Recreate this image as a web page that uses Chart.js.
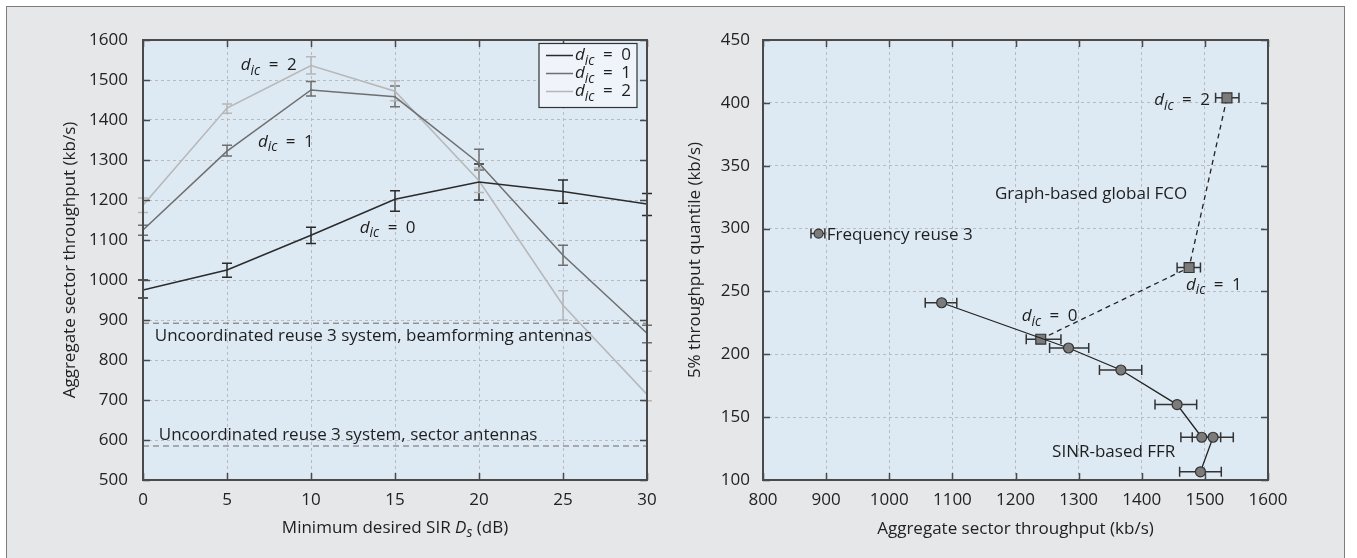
<!DOCTYPE html>
<html><head><meta charset="utf-8">
<script src="https://cdn.jsdelivr.net/npm/chart.js@4/dist/chart.umd.min.js"></script>
<style>
html,body{margin:0;padding:0;background:#fff;}
body{width:1357px;height:558px;position:relative;overflow:hidden;}
#frame{position:absolute;left:6px;top:6px;width:1339px;height:560px;background:#e6e7e8;border:1.5px solid #7d7d7d;box-sizing:border-box;}
#cL{position:absolute;left:0;top:0;}
#cR{position:absolute;left:680px;top:0;}
</style></head><body>
<div id="frame"></div>
<canvas id="cL" width="680" height="558"></canvas>
<canvas id="cR" width="677" height="558"></canvas>
<script>
// ---------- Left panel data ----------
const sirDb = [0, 5, 10, 15, 20, 25, 30];
const seriesLabels = ['d_ic = 0', 'd_ic = 1', 'd_ic = 2'];
const dic0 = [975, 1025, 1112, 1202, 1245, 1221, 1190];
const dic0Lo = [955, 1007, 1091, 1172, 1200, 1192, 1161];
const dic0Hi = [1000, 1042, 1132, 1223, 1290, 1250, 1216];
const dic1 = [1125, 1322, 1475, 1458, 1292, 1062, 867];
const dic1Lo = [1112, 1310, 1460, 1433, 1275, 1037, 843];
const dic1Hi = [1137, 1337, 1496, 1485, 1327, 1087, 887];
const dic2 = [1187, 1430, 1536, 1472, 1248, 937, 714];
const dic2Lo = [1169, 1417, 1515, 1448, 1219, 900, 698];
const dic2Hi = [1205, 1440, 1558, 1498, 1280, 973, 772];
const beamformingRef = 892;
const sectorRef = 585;
const leftXTicks = [0, 30, 5];      // min, max, step
const leftYTicks = [500, 1600, 100];

// ---------- Right panel data ----------
const ffrThroughput = [1083, 1284, 1367, 1456, 1495, 1513, 1493];
const ffrQuantile   = [241, 205, 187.5, 160, 134, 134, 106.5];
const ffrLo = [1057, 1254, 1333, 1421, 1462, 1480, 1460];
const ffrHi = [1107, 1316, 1400, 1487, 1525, 1545, 1526];
const fcoThroughput = [1240, 1475, 1535];
const fcoQuantile   = [212, 269, 404];
const fcoLo = [1217, 1456, 1517];
const fcoHi = [1272, 1493, 1554];
const fr3Throughput = [888];
const fr3Quantile   = [296];
const fr3Lo = [876];
const fr3Hi = [898];
const rightXTicks = [800, 1600, 100];
const rightYTicks = [100, 450, 50];

// ---------- helpers ----------
const FONT = "'Open Sans', 'Noto Sans', sans-serif";
const FS = 17;
Chart.defaults.font.family = FONT;
Chart.defaults.font.size = FS;
Chart.defaults.color = '#222';

function fontStr(italic, size){ return (italic ? 'italic ' : '') + size + 'px ' + FONT; }
function drawRich(ctx, segs, x, y, align, size){
  ctx.save();
  ctx.textBaseline = 'middle';
  ctx.textAlign = 'left';
  ctx.fillStyle = '#1e1e1e';
  const widths = segs.map(([t, s]) => {
    const sub = s.startsWith('s');
    ctx.font = fontStr(s.includes('i'), sub ? size * 0.8 : size);
    return ctx.measureText(t).width;
  });
  const total = widths.reduce((a, b) => a + b, 0);
  let cx = align === 'center' ? x - total / 2 : (align === 'right' ? x - total : x);
  segs.forEach(([t, s], k) => {
    const sub = s.startsWith('s');
    ctx.font = fontStr(s.includes('i'), sub ? size * 0.8 : size);
    ctx.fillText(t, cx, y + (sub ? size * 0.32 : 0));
    cx += widths[k];
  });
  ctx.restore();
}
function subSegs(label){
  const m = label.match(/^(\w)_(\w+)(.*)$/);
  if (!m) return [[label, 'n']];
  return [[m[1], 'i'], [m[2], 'si'], [m[3].replace(' = ', '\u2002=\u2002'), 'n']];
}

const framePlugin = {
  id: 'frame',
  beforeDraw(chart, args, opts){
    const {ctx, chartArea: a} = chart;
    ctx.save();
    ctx.fillStyle = opts.bg;
    ctx.fillRect(a.left, a.top, a.right - a.left, a.bottom - a.top);
    ctx.restore();
  },
  afterDraw(chart){
    const {ctx, chartArea: a, scales: {x, y}} = chart;
    ctx.save();
    ctx.strokeStyle = '#4a4a4a';
    ctx.lineWidth = 1.5;
    const L = 7;
    ctx.beginPath();
    x.ticks.forEach(t => {
      const p = Math.round(x.getPixelForValue(t.value)) + 0.5;
      ctx.moveTo(p, a.bottom); ctx.lineTo(p, a.bottom - L);
      ctx.moveTo(p, a.top); ctx.lineTo(p, a.top + L);
    });
    y.ticks.forEach(t => {
      const p = Math.round(y.getPixelForValue(t.value)) + 0.5;
      ctx.moveTo(a.left, p); ctx.lineTo(a.left + L, p);
      ctx.moveTo(a.right, p); ctx.lineTo(a.right - L, p);
    });
    ctx.stroke();
    ctx.lineWidth = 2;
    ctx.strokeRect(a.left, a.top, a.right - a.left, a.bottom - a.top);
    ctx.restore();
  }
};

const errorBarPlugin = {
  id: 'errbars',
  beforeDatasetsDraw(chart){
    const {ctx, scales: {x, y}} = chart;
    chart.data.datasets.forEach(ds => {
      if (!ds.errLo) return;
      ctx.save();
      ctx.strokeStyle = ds.errColor || ds.borderColor;
      ctx.lineWidth = 1.5;
      ctx.beginPath();
      const c = ds.errCap;
      ds.data.forEach((p, k) => {
        const px = x.getPixelForValue(p.x), py = y.getPixelForValue(p.y);
        if (ds.errAxis === 'x') {
          const a = x.getPixelForValue(ds.errLo[k]), b = x.getPixelForValue(ds.errHi[k]);
          ctx.moveTo(a, py); ctx.lineTo(b, py);
          ctx.moveTo(a, py - c); ctx.lineTo(a, py + c);
          ctx.moveTo(b, py - c); ctx.lineTo(b, py + c);
        } else {
          const a = y.getPixelForValue(ds.errLo[k]), b = y.getPixelForValue(ds.errHi[k]);
          ctx.moveTo(px, a); ctx.lineTo(px, b);
          ctx.moveTo(px - c, a); ctx.lineTo(px + c, a);
          ctx.moveTo(px - c, b); ctx.lineTo(px + c, b);
        }
      });
      ctx.stroke();
      ctx.restore();
    });
  }
};

const notesPlugin = {
  id: 'notes',
  afterDatasetsDraw(chart, args, opts){
    const {ctx, chartArea: a, scales: {x, y}} = chart;
    (opts.items || []).forEach(it => {
      let px, py;
      if (it.axisTitle) { px = (a.left + a.right) / 2; py = a.bottom + it.dy; }
      else { px = x.getPixelForValue(it.x); py = y.getPixelForValue(it.y); }
      drawRich(ctx, it.segs, px, py, it.align || 'left', it.size || FS);
    });
  }
};

const richLegendPlugin = {
  id: 'richLegend',
  afterDraw(chart, args, opts){
    if (!opts.show) return;
    const {ctx, chartArea: a} = chart;
    const w = 98, h = 64;
    const left = a.right - 10 - w, top = a.top + 3.5;
    ctx.save();
    ctx.fillStyle = '#eef4f9';
    ctx.fillRect(left, top, w, h);
    ctx.strokeStyle = '#333';
    ctx.lineWidth = 1.2;
    ctx.strokeRect(left, top, w, h);
    const dsList = chart.data.datasets.filter(d => d.inLegend);
    dsList.forEach((d, k) => {
      const yy = top + 12 + k * 18;
      ctx.strokeStyle = d.borderColor;
      ctx.lineWidth = 1.5;
      ctx.beginPath(); ctx.moveTo(left + 7, yy); ctx.lineTo(left + 34, yy); ctx.stroke();
      drawRich(ctx, subSegs(d.label), left + 36, yy, 'left', FS);
    });
    ctx.restore();
  }
};

function axisOpts(ticksArr, pad, extra){
  return Object.assign({
    type: 'linear',
    min: ticksArr[0], max: ticksArr[1],
    ticks: {stepSize: ticksArr[2], maxRotation: 0, autoSkip: false, color: '#222', font: {size: FS}, padding: pad,
            callback: v => String(v)},
    grid: {color: '#b8bcc2', lineWidth: 1, drawTicks: false},
    border: {display: false, dash: [3, 3]}
  }, extra);
}

// ---------- Left chart ----------
const leftColors = ['#2b2b2b', '#6f6f6f', '#b7b7b7'];
const leftSeries = [[dic0, dic0Lo, dic0Hi], [dic1, dic1Lo, dic1Hi], [dic2, dic2Lo, dic2Hi]];
const leftDatasets = leftSeries.map(([v, lo, hi], i) => ({
  label: seriesLabels[i],
  data: sirDb.map((s, k) => ({x: s, y: v[k]})),
  showLine: true, borderColor: leftColors[i], borderWidth: 1.5, pointRadius: 0,
  errLo: lo, errHi: hi, errAxis: 'y', errCap: 5, inLegend: true
}));
leftDatasets.push({
  label: 'Uncoordinated reuse 3 system, beamforming antennas',
  data: [{x: sirDb[0], y: beamformingRef}, {x: sirDb[sirDb.length - 1], y: beamformingRef}],
  showLine: true, borderColor: '#6a6a6a', borderWidth: 1, borderDash: [6, 4], pointRadius: 0
});
leftDatasets.push({
  label: 'Uncoordinated reuse 3 system, sector antennas',
  data: [{x: sirDb[0], y: sectorRef}, {x: sirDb[sirDb.length - 1], y: sectorRef}],
  showLine: true, borderColor: '#6a6a6a', borderWidth: 1, borderDash: [6, 4], pointRadius: 0
});

new Chart(document.getElementById('cL'), {
  type: 'scatter',
  data: {datasets: leftDatasets},
  plugins: [framePlugin, errorBarPlugin, notesPlugin, richLegendPlugin],
  options: {
    responsive: false, animation: false,
    layout: {padding: {left: 0, top: 40, right: 33, bottom: 0}},
    plugins: {
      legend: {display: false}, tooltip: {enabled: false},
      frame: {bg: '#dde9f3'},
      richLegend: {show: true},
      notes: {items: [
        {x: 5.82, y: 1537, segs: subSegs(seriesLabels[2])},
        {x: 6.84, y: 1345, segs: subSegs(seriesLabels[1])},
        {x: 12.9, y: 1130, segs: subSegs(seriesLabels[0])},
        {x: 0.7, y: 860, segs: [['Uncoordinated reuse 3 system, beamforming antennas', 'n']]},
        {x: 0.94, y: 612, segs: [['Uncoordinated reuse 3 system, sector antennas', 'n']]},
        {axisTitle: true, dy: 48, align: 'center', segs: [['Minimum desired SIR ', 'n'], ['D', 'i'], ['s', 'si'], [' (dB)', 'n']]}
      ]}
    },
    scales: {
      x: axisOpts(leftXTicks, 10, {afterFit(s){ s.height = 78; }}),
      y: axisOpts(leftYTicks, 15, {
        title: {display: true, text: 'Aggregate sector throughput (kb/s)', color: '#222', font: {size: FS}, padding: {top: 60, bottom: 0}},
        afterFit(s){ s.width = 143; }
      })
    }
  }
});

// ---------- Right chart ----------
const markerFill = '#7b7b7b', markerEdge = '#333';
new Chart(document.getElementById('cR'), {
  type: 'scatter',
  data: {datasets: [
    {label: 'SINR-based FFR', data: ffrThroughput.map((v, k) => ({x: v, y: ffrQuantile[k]})),
     showLine: true, borderColor: '#222', borderWidth: 1.3,
     pointRadius: 5, pointBackgroundColor: markerFill, pointBorderColor: markerEdge, pointBorderWidth: 1.2,
     errLo: ffrLo, errHi: ffrHi, errAxis: 'x', errCap: 5, errColor: '#333'},
    {label: 'Graph-based global FCO', data: fcoThroughput.map((v, k) => ({x: v, y: fcoQuantile[k]})),
     showLine: true, borderColor: '#222', borderWidth: 1.3, borderDash: [5, 4],
     pointStyle: 'rect', pointRadius: 7, pointBackgroundColor: markerFill, pointBorderColor: markerEdge, pointBorderWidth: 1.2,
     errLo: fcoLo, errHi: fcoHi, errAxis: 'x', errCap: 5, errColor: '#333'},
    {label: 'Frequency reuse 3', data: fr3Throughput.map((v, k) => ({x: v, y: fr3Quantile[k]})),
     showLine: false, borderColor: '#222',
     pointRadius: 4.5, pointBackgroundColor: markerFill, pointBorderColor: markerEdge, pointBorderWidth: 1.2,
     errLo: fr3Lo, errHi: fr3Hi, errAxis: 'x', errCap: 5, errColor: '#333'}
  ]},
  plugins: [framePlugin, errorBarPlugin, notesPlugin],
  options: {
    responsive: false, animation: false,
    layout: {padding: {left: 0, top: 40, right: 89, bottom: 0}},
    plugins: {
      legend: {display: false}, tooltip: {enabled: false},
      frame: {bg: '#dde9f3'},
      notes: {items: [
        {x: 1419.7, y: 402, segs: subSegs('d_ic = 2')},
        {x: 1167.4, y: 327.5, segs: [['Graph-based global FCO', 'n']]},
        {x: 901, y: 295, segs: [['Frequency reuse 3', 'n']]},
        {x: 1470, y: 255, segs: subSegs('d_ic = 1')},
        {x: 1209.8, y: 230, segs: subSegs('d_ic = 0')},
        {x: 1258, y: 122.5, segs: [['SINR-based FFR', 'n']]}
      ]}
    },
    scales: {
      x: axisOpts(rightXTicks, 10, {
        title: {display: true, text: 'Aggregate sector throughput (kb/s)', color: '#222', font: {size: FS}, padding: {top: 0, bottom: 19}},
        afterFit(s){ s.height = 78; }
      }),
      y: axisOpts(rightYTicks, 13, {
        title: {display: true, text: '5% throughput quantile (kb/s)', color: '#222', font: {size: FS}, padding: {top: 5, bottom: 0}},
        afterFit(s){ s.width = 83; }
      })
    }
  }
});
</script>
</body></html>
